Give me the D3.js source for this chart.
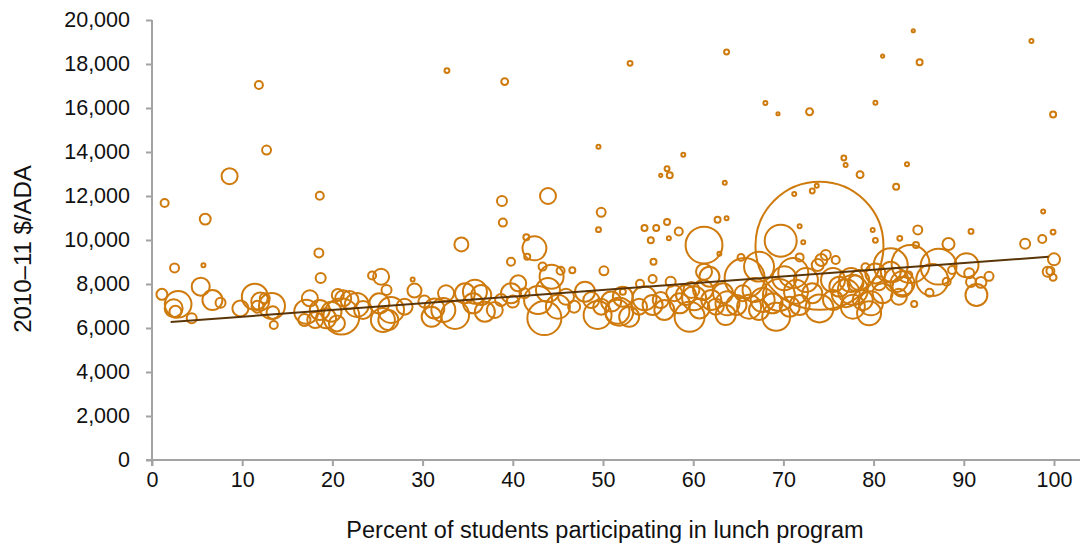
<!DOCTYPE html>
<html>
<head>
<meta charset="utf-8">
<script src="https://cdn.jsdelivr.net/npm/d3@7"></script>
<style>
  html, body { margin: 0; padding: 0; background: #fff; }
  svg { display: block; font-family: "Liberation Sans", Arial, sans-serif; }
</style>
</head>
<body>
<script>
// ---- Data ----
const lunchPct = [
  11.85, 32.7, 39.1, 12.7, 49.5, 8.6, 53, 63.7, 84.4, 97.5,
  81, 85.1, 68, 69.4, 72.9, 80.2, 99.9, 58.9, 57.1, 76.7,
  76.9, 83.7, 56.4, 57.4, 63.5, 78.5, 73.7, 73.2, 71.2, 74.0,
  62.7, 63.7, 57.1, 58.4, 54.6, 55.9, 55.3, 57.3, 55.6, 61.2,
  69.7, 71.8, 72.2, 62.9, 82.5, 98.8, 99.9, 98.7, 96.8, 90.8,
  84.9, 82.9, 79.9, 80.2, 88.3, 100, 99.3, 99.6, 99.9, 92.8,
  90.3, 90.6, 90.8, 91.9, 91.4, 87.2, 86.5, 88.1, 88.7, 86.2,
  84.7, 84.1, 81.9, 83.2, 81.9, 79.7, 79.5, 84.5, 83.9, 80.6,
  1.4, 5.9, 18.6, 2.5, 5.7, 18.5, 18.7, 1.1, 2.9, 2.4,
  2.6, 4.4, 5.4, 6.7, 7.6, 9.8, 11.4, 12, 12.5, 11.7,
  13.3, 13.4, 13.5, 17.5, 17.1, 16.9, 18.1, 18.6, 19.3, 21,
  19.9, 21.2, 21.9, 22.7, 23.4, 20.6, 20.5, 25.4, 24.4, 25.2,
  25.6, 26, 34.3, 42.4, 41.6, 39.8, 43.3, 45.3, 46.6, 50.1,
  28.9, 29.1, 26.5, 28, 26.2, 30.2, 31.3, 31, 32.6, 32.3,
  33.6, 34.7, 35.8, 36.5, 35.6, 36.9, 38, 38.7, 39.8, 40,
  40.6, 41.3, 42.8, 43.5, 44.3, 43.9, 45, 45.9, 46.8, 48,
  48.7, 49.8, 49.4, 50.9, 51.6, 38.8, 43.9, 38.9, 49.8, 49.5,
  41.5, 65.3, 71.8, 55.5, 54.1, 57.5, 52.2, 51.8, 52.9, 54.6,
  54, 55.5, 56.4, 56.8, 57.9, 58.5, 59.6, 59.2, 60.1, 59.8,
  60.7, 61.1, 62, 62.5, 61.2, 61.8, 63.3, 63.8, 65.7, 65.5,
  64.8, 63.6, 66.2, 67.3, 66.8, 67.7, 67.3, 68.8, 69.5, 70.1,
  69.2, 70.7, 71.4, 71.8, 71.1, 73.2, 74, 74.7, 74.2, 73.8,
  75.8, 75.5, 76.2, 75.5, 76.9, 77.7, 78, 72.5, 77.7, 78.8,
  80.2, 81, 82.5, 82.8, 83.2, 79.1, 77.5, 78.4, 52.2
];
const spending = [
  17045, 17700, 17200, 14090, 14240, 12900, 18030, 18545, 19510, 19040,
  18360, 18075, 16230, 15740, 15830, 16240, 15710, 13880, 13240, 13730,
  13410, 13440, 12940, 12940, 12600, 12970, 12470, 12230, 12090, 9740,
  10920, 10990, 10820, 10390, 10545, 10545, 9985, 10080, 9015, 9770,
  9970, 10620, 9895, 9380, 12420, 11290, 10360, 10045, 9830, 10390,
  10455, 10075, 10450, 9985, 9820, 9120, 8560, 8590, 8300, 8350,
  8850, 8485, 8090, 8075, 7500, 8790, 8180, 8100, 8640, 7600,
  9770, 8910, 8850, 8030, 8560, 7120, 6670, 7090, 8410, 8030,
  11680, 10950, 12010, 8730, 8850, 9410, 8270, 7530, 7080, 6900,
  6740, 6440, 7880, 7270, 7150, 6890, 7420, 7200, 7350, 6970,
  7000, 6700, 6140, 7350, 6740, 6360, 6360, 6820, 6440, 6520,
  6740, 7350, 7270, 7050, 6820, 7500, 6210, 8330, 8390, 7120,
  6360, 7730, 9800, 9620, 9240, 9015, 8790, 8600, 8620, 8600,
  8210, 7700, 6820, 6970, 6360, 7200, 6890, 6510, 7580, 6820,
  6590, 7580, 7650, 7500, 7120, 6740, 6820, 7270, 7580, 7200,
  8030, 7580, 7270, 6450, 8330, 7730, 6970, 7420, 6970, 7650,
  7270, 6970, 6590, 7200, 6740, 11770, 12000, 10790, 11260, 10470,
  10120, 9210, 9210, 8230, 8010, 8100, 7420, 6740, 6510, 7350,
  6970, 7050, 7270, 6820, 7580, 7120, 6510, 7500, 7350, 7730,
  6890, 7730, 7270, 6970, 8560, 8330, 7580, 7120, 8270, 7580,
  7050, 6590, 6970, 8790, 7730, 7270, 6820, 7120, 7500, 8260,
  6510, 6970, 7650, 7050, 8500, 7580, 6890, 9320, 9090, 8860,
  9090, 8180, 7880, 7270, 7580, 6970, 8030, 8180, 7730, 7270,
  8480, 7580, 8180, 7420, 7880, 8760, 8180, 8180, 7650
];
const ada = [
  160, 60, 120, 200, 40, 640, 60, 60, 25, 40,
  25, 90, 40, 25, 120, 40, 90, 40, 60, 60,
  40, 40, 25, 90, 40, 120, 40, 60, 40, 41000,
  90, 40, 90, 160, 90, 90, 90, 40, 90, 3400,
  2560, 40, 40, 40, 90, 40, 60, 160, 250, 60,
  200, 60, 40, 60, 360, 360, 250, 160, 120, 200,
  1440, 250, 250, 300, 1200, 3240, 2560, 160, 160, 160,
  90, 3600, 2900, 1440, 1000, 1440, 1440, 90, 120, 490,
  160, 300, 160, 200, 40, 200, 250, 300, 1770, 810,
  360, 250, 810, 1000, 250, 640, 1690, 810, 250, 360,
  1690, 400, 160, 640, 1440, 360, 640, 1000, 1000, 3240,
  1000, 640, 810, 1440, 810, 360, 640, 640, 160, 1000,
  1440, 250, 490, 1440, 90, 160, 160, 160, 90, 200,
  40, 490, 1690, 640, 1000, 360, 1000, 1000, 640, 1440,
  1960, 1000, 1440, 1000, 1000, 1000, 640, 360, 1000, 360,
  640, 250, 1960, 2900, 1440, 1440, 1440, 640, 360, 1000,
  640, 640, 1960, 1000, 1440, 250, 640, 160, 200, 60,
  90, 120, 160, 160, 160, 250, 1000, 1960, 1000, 1440,
  640, 1000, 640, 1000, 640, 1000, 2250, 1000, 1440, 640,
  1000, 1000, 1000, 640, 640, 1000, 1000, 1440, 4000, 640,
  1000, 1000, 1440, 2250, 1440, 1440, 1000, 1000, 2560, 1440,
  1960, 1000, 1440, 1000, 2250, 1000, 1960, 250, 360, 360,
  160, 1440, 1000, 1000, 1960, 1440, 640, 1440, 2250, 1000,
  1000, 1000, 1440, 640, 1000, 160, 1440, 1000, 90
];
// Trend line end points
const trendX = [2.07, 99.4];
const trendY = [6270, 9240];

const xTicks = [0, 10, 20, 30, 40, 50, 60, 70, 80, 90, 100];
const yTicks = [0, 2000, 4000, 6000, 8000, 10000, 12000, 14000, 16000, 18000, 20000];
const xTitle = "Percent of students participating in lunch program";
const yTitle = "2010\u201311 $/ADA";

// ---- Chart ----
const W = 1088, H = 550;
const svg = d3.select("body").append("svg").attr("width", W).attr("height", H);

const x = d3.scaleLinear().domain([0, 100]).range([152, 1054]);
const y = d3.scaleLinear().domain([0, 20000]).range([460, 20]);
const r = d3.scaleSqrt().domain([0, 41000]).range([0, 64]);

const axisColor = "#a3a3a3";
const markColor = "#cf7a0c";

// axis lines (extended like the reference)
svg.append("line").attr("x1", 146).attr("x2", 1080).attr("y1", y(0)).attr("y2", y(0))
  .attr("stroke", axisColor).attr("stroke-width", 2);
svg.append("line").attr("x1", x(0)).attr("x2", x(0)).attr("y1", y(20000)).attr("y2", y(0) + 6)
  .attr("stroke", axisColor).attr("stroke-width", 2);

const xAxis = svg.append("g").attr("transform", `translate(0,${y(0)})`)
  .call(d3.axisBottom(x).tickValues(xTicks).tickSize(6).tickSizeOuter(0).tickPadding(6)
    .tickFormat(d3.format("d")));
const yAxis = svg.append("g").attr("transform", `translate(${x(0)},0)`)
  .call(d3.axisLeft(y).tickValues(yTicks).tickSize(6).tickSizeOuter(0).tickPadding(16)
    .tickFormat(d3.format(",")));
[xAxis, yAxis].forEach(g => {
  g.select(".domain").remove();
  g.selectAll(".tick line").attr("stroke", axisColor).attr("stroke-width", 2);
  g.selectAll(".tick text").attr("fill", "#111").style("font-size", "21.5px")
    .style("font-family", '"Liberation Sans", Arial, sans-serif');
});

// bubbles
const data = lunchPct.map((v, i) => ({ x: v, y: spending[i], s: ada[i] }));
svg.append("g").selectAll("circle").data(data).join("circle")
  .attr("cx", d => x(d.x)).attr("cy", d => y(d.y)).attr("r", d => r(d.s))
  .attr("fill", "none").attr("stroke", markColor).attr("stroke-width", 2);

// trend line
svg.append("line")
  .attr("x1", x(trendX[0])).attr("y1", y(trendY[0]))
  .attr("x2", x(trendX[1])).attr("y2", y(trendY[1]))
  .attr("stroke", "#5a3508").attr("stroke-width", 2);

// titles
svg.append("text").attr("x", (x(0) + x(100)) / 2 + 2).attr("y", 538)
  .attr("text-anchor", "middle").style("font-size", "23.5px").attr("fill", "#111")
  .text(xTitle);
svg.append("text").attr("transform", "translate(31,249) rotate(-90)")
  .attr("text-anchor", "middle").style("font-size", "24px").attr("fill", "#111")
  .text(yTitle);
</script>
</body>
</html>
